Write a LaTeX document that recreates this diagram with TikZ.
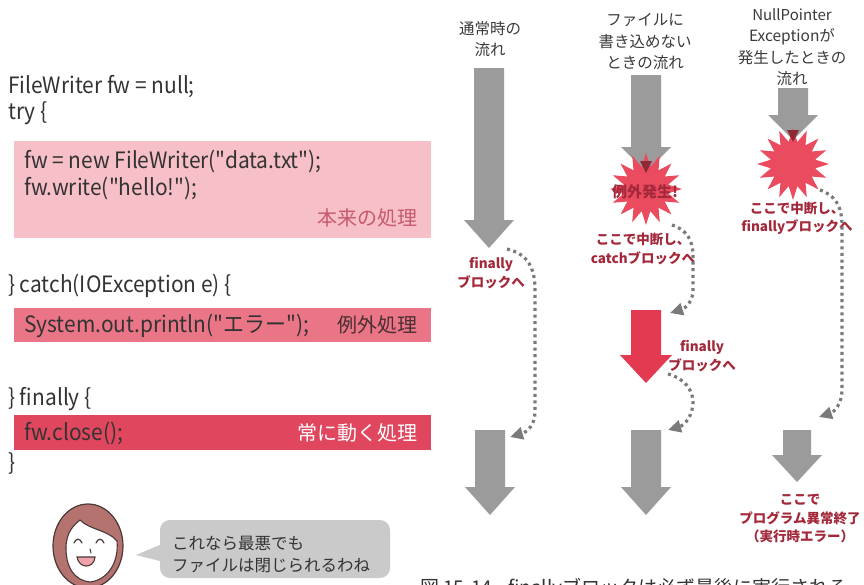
\documentclass[tikz,border=0pt]{standalone}
\usepackage{fontspec}
\setmainfont{Noto Sans CJK JP}
\newfontfamily\codefont[FakeStretch=0.93]{Noto Sans CJK JP}
\usetikzlibrary{shapes.geometric,arrows.meta}

\definecolor{codegray}{HTML}{333333}
\definecolor{headgray}{HTML}{3A3A3A}
\definecolor{boxpale}{HTML}{F7BFC8}
\definecolor{boxmid}{HTML}{EA7587}
\definecolor{boxdeep}{HTML}{E0475F}
\definecolor{tagpink}{HTML}{C65A6E}
\definecolor{tagdark}{HTML}{4A2E32}
\definecolor{flowgray}{HTML}{9B9B9B}
\definecolor{dotgray}{HTML}{7A7A7A}
\definecolor{burstred}{HTML}{EA4B5F}
\definecolor{arrowred}{HTML}{E33A51}
\definecolor{tipred}{HTML}{8E2A36}
\definecolor{notered}{HTML}{A3283A}
\definecolor{bubblegray}{HTML}{CACACA}
\definecolor{hair}{HTML}{B5736F}
\definecolor{inkline}{HTML}{4A3838}
\definecolor{mouthpink}{HTML}{F2A2AA}

% block arrow pointing down: centre x, top, head start, tip, half shaft, half head
\newcommand\downblock[7]{%
  \fill[#7] (#1-#5,#2) -- (#1+#5,#2) -- (#1+#5,#3) -- (#1+#6,#3)
    -- (#1,#4) -- (#1-#6,#3) -- (#1-#5,#3) -- cycle;}

\tikzset{
  code/.style={anchor=base west, text=codegray, inner sep=0,
    font=\codefont\fontsize{22.5}{27}\selectfont},
  tag/.style={anchor=base east, inner sep=0, font=\fontsize{20}{24}\selectfont},
  head/.style={align=center, text=headgray, inner sep=0,
    font=\fontsize{15.5}{21.5}\selectfont},
  note/.style={align=center, text=notered, inner sep=0,
    font=\bfseries\fontsize{13.5}{18.5}\selectfont},
  alert/.style={inner sep=0, font=\bfseries\fontsize{15}{18}\selectfont},
  flow/.style={draw=dotgray, line width=3.2pt, dash pattern=on 3pt off 3.6pt,
    -{Triangle[length=13pt,width=12pt]}},
  burst/.style={star, star points=16, star point ratio=1.6, fill=burstred,
    minimum size=72pt, inner sep=0},
  talk/.style={anchor=base west, text=codegray, inner sep=0,
    font=\fontsize{16.5}{20}\selectfont},
}

\begin{document}
\begin{tikzpicture}[x=1pt,y=-1pt]
\useasboundingbox (0,0) rectangle (864,584);
\clip (0,0) rectangle (864,584);
\fill[white] (0,0) rectangle (864,584);

% ---------- source code ----------
\fill[boxpale] (14,141) rectangle (431,238);
\fill[boxmid]  (14,308) rectangle (431,342);
\fill[boxdeep] (14,415) rectangle (431,450);

\node[code] (l1) at (8,93)  {FileWriter fw = null;};
\node[code] (l2) at (8,119) {try \{};
\node[code] (l3) at (24,168) {fw = new FileWriter("data.txt");};
\node[code] (l4) at (24,195) {fw.write("hello!");};
\node[tag, text=tagpink] (t1) at (418,225) {本来の処理};
\node[code] (l5) at (8,292) {\} catch(IOException e) \{};
\node[code] (l6) at (24,332) {System.out.println("エラー");};
\node[tag, text=tagdark] (t2) at (418,332) {例外処理};
\node[code] (l7) at (8,405) {\} finally \{};
\node[code] (l8) at (24,440) {fw.close();};
\node[tag, text=white] (t3) at (418,440) {常に動く処理};
\node[code] (l9) at (8,470) {\}};

% ---------- flow arrows ----------
\downblock{489}{68}{220}{248}{15}{25}{flowgray}
\downblock{490}{430}{487}{515}{15}{25}{flowgray}

\downblock{646}{75}{147}{172}{15}{25}{flowgray}
\node[burst] (s1) at (646,189) {};
\fill[tipred] (640,161) -- (652,161) -- (646,173) -- cycle;
\downblock{646}{310}{355}{383}{15}{26}{arrowred}
\downblock{646}{430}{487}{515}{15}{25}{flowgray}

\downblock{793}{88}{115}{140}{15}{25}{flowgray}
\node[burst] (s2) at (793,164) {};
\fill[tipred] (787,130) -- (799,130) -- (793,142) -- cycle;
\downblock{797}{430}{455}{482}{14}{25}{flowgray}

% ---------- column headings ----------
\node[head] (h1) at (490,39) {通常時の\\流れ};
\node[head] (h2) at (645,42) {ファイルに\\書き込めない\\ときの流れ};
\node[head] (h3) at (792,47) {\fontsize{15}{19.5}\selectfont NullPointer\\Exceptionが\\発生したときの\\流れ};

% ---------- notes ----------
\node[note] (n1) at (491,273) {finally\\ブロックへ};
\node[alert, text=notered] (n2) at (645,192) {例外発生!};
\node[note] (n3) at (643,249) {ここで中断し、\\catchブロックへ};
\node[note] (n4) at (702,356) {finally\\ブロックへ};
\node[note] (n5) at (797,218) {ここで中断し、\\finallyブロックへ};
\node[note] (n6) at (800,519) {ここで\\プログラム異常終了\\（実行時エラー）};

% ---------- jumps between blocks ----------
\coordinate (a1) at (507,249);
\coordinate (b1) at (510,437);
\draw[flow] (a1) .. controls (528,254) and (535,268) .. (535,290)
  -- (535,412) .. controls (535,425) and (527,432) .. (b1);

\coordinate (a2) at (672,225);
\coordinate (b2) at (670,313);
\draw[flow] (a2) .. controls (688,230) and (693,242) .. (693,256)
  -- (693,290) .. controls (693,301) and (686,308) .. (b2);

\coordinate (a3) at (668,374);
\coordinate (b3) at (668,430);
\draw[flow] (a3) .. controls (684,378) and (693,390) .. (693,402)
  .. controls (693,415) and (685,425) .. (b3);

\coordinate (a4) at (820,190);
\coordinate (b4) at (819,417);
\draw[flow] (a4) .. controls (835,195) and (842,206) .. (842,226)
  -- (842,390) .. controls (842,404) and (834,412) .. (b4);

% ---------- speaker ----------
\filldraw[fill=hair, draw=inkline, line width=1.2pt] (88,546) ellipse [x radius=35, y radius=42];
\filldraw[fill=white, draw=inkline, line width=1.1pt]
  (66,548) .. controls (66,532) and (74,525) .. (80,520)
  .. controls (90,530) and (108,530) .. (117,541)
  .. controls (119,562) and (108,580) .. (90,582)
  .. controls (73,580) and (66,566) .. cycle;
\draw[inkline, line width=1.2pt, line cap=round] (74,543) .. controls (76,538) and (80,538) .. (82,543);
\draw[inkline, line width=1.2pt, line cap=round] (96,543) .. controls (98,538) and (102,538) .. (104,543);
\draw[inkline, line width=1pt, line cap=round] (90,549) -- (91,553);
\filldraw[fill=mouthpink, draw=inkline, line width=1.1pt]
  (77,557) -- (95,557) .. controls (94,569) and (79,569) .. cycle;

\node[fill=bubblegray, rounded corners=10pt, minimum width=230pt, minimum height=58pt, inner sep=0] (bub) at (275,549) {};
\fill[bubblegray] (bub.west |- 0,545) -- (136,555) -- (bub.west |- 0,561) -- cycle;
\node[talk] (w1) at (172,549) {これなら最悪でも};
\node[talk] (w2) at (172,571) {ファイルは閉じられるわね};

% ---------- caption ----------
\node[anchor=base west, inner sep=0, text=codegray, font=\fontsize{19}{23}\selectfont] (cap) at (420,594)
  {図 15-14\hskip 16pt finallyブロックは必ず最後に実行される};
\end{tikzpicture}
\end{document}
